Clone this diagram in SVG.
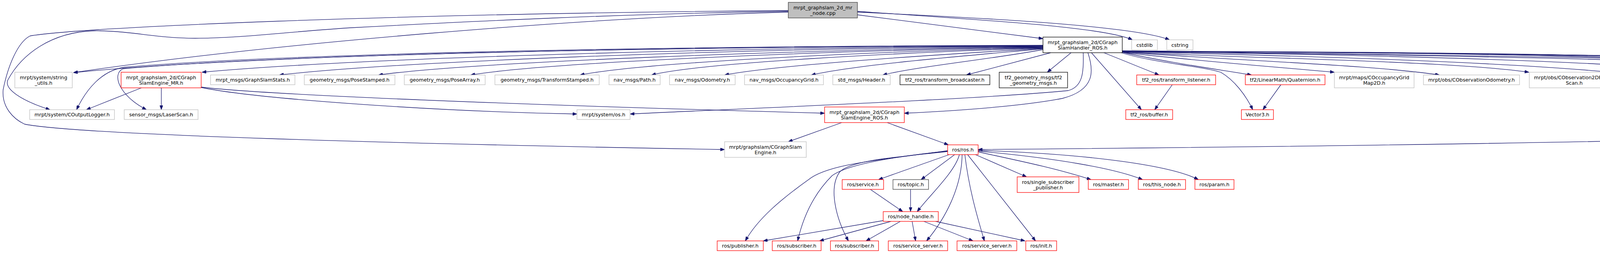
<svg xmlns="http://www.w3.org/2000/svg" width="5449" height="648" viewBox="0 0 5449 648">
<style>
.n rect{fill:#ffffff;stroke-width:1.3}
.g rect{stroke:#bfbfbf}
.r rect{stroke:#ff0000}
.b rect{stroke:#000000}
.d rect{stroke:#404040}
.root rect{fill:#bfbfbf;stroke:#404040}
.n text{font-family:"DejaVu Sans","Liberation Sans",sans-serif;font-size:12.7px;fill:#000000;text-anchor:middle}
#edges path{fill:none;stroke:#191970;stroke-width:1.3;marker-end:url(#a)}
</style>
<defs>
<marker id="a" markerWidth="11" markerHeight="8" refX="11" refY="4" orient="auto" markerUnits="userSpaceOnUse"><path d="M0,0 L11,4 L0,8 z" fill="#191970" stroke="#191970" stroke-width="1"/></marker>
</defs>
<rect width="5449" height="648" fill="#ffffff"/>
<g id="edges">
<path d="M2195,38 L2670,99"/>
<path d="M2195,29 C2450,48 2820,66 2899,102"/>
<path d="M2195,31 C2500,45 2900,65 2994,102"/>
<path d="M2018,27 C1000,35 200,70 77,92 C45,108 20,170 8,230 C4,275 35,305 63,318 C200,345 1000,368 1855,383"/>
<path d="M2018,29 C1600,35 1200,55 900,71 C750,80 620,98 500,98 C400,98 330,78 241,79 C130,82 55,140 20,205 C10,228 55,258 128,281"/>
<path d="M2018,31 C1500,45 700,110 188,186"/>
<path d="M2670,117 C1800,120 700,135 188,186"/>
<path d="M2670,116 C1600,118 700,140 320,172 C260,180 220,230 196,281"/>
<path d="M2670,117 C1600,120 700,142 315,176 C285,190 305,245 375,281"/>
<path d="M2670,118 C1800,122 900,150 517,185"/>
<path d="M2670,119 C1800,125 1000,160 715,192"/>
<path d="M2670,120 C2000,128 1200,160 969,192"/>
<path d="M2670,121 C2100,130 1400,160 1205,192"/>
<path d="M2670,122 C2200,133 1650,160 1485,192"/>
<path d="M2670,123 C2300,135 1800,160 1668,192"/>
<path d="M2670,124 C2400,140 2000,165 1855,192"/>
<path d="M2670,125 C2450,145 2200,165 2077,192"/>
<path d="M2670,127 C2550,150 2350,170 2260,192"/>
<path d="M2690,135 L2474,192"/>
<path d="M2742,135 L2681,185"/>
<path d="M2773,135 C2775,190 2770,222 2735,232 C2500,255 1900,278 1613,292"/>
<path d="M2785,135 C2800,180 2805,230 2720,252 C2600,275 2420,285 2315,290"/>
<path d="M2794,135 L2922,281"/>
<path d="M2826,135 L2967,192"/>
<path d="M2870,135 C2950,160 3080,170 3125,185 C3160,205 3190,245 3207,281"/>
<path d="M2873,134 C2980,158 3100,175 3204,192"/>
<path d="M2873,134 C3050,155 3250,170 3416,185"/>
<path d="M2873,133 C3200,158 3500,165 3685,192"/>
<path d="M2873,133 C3200,150 3700,155 3914,185"/>
<path d="M2873,132 C3400,145 3900,160 4196,192"/>
<path d="M2873,132 C3500,140 4100,155 4384,185"/>
<path d="M2873,131 C3600,135 4500,140 4636,192"/>
<path d="M2873,131 C3700,135 4600,140 4718,192"/>
<path d="M2873,131 C3700,133 4700,140 4814,192"/>
<path d="M2873,132 C3700,140 4600,160 4899,186"/>
<path d="M2873,132 C3800,140 4900,160 5179,186"/>
<path d="M2873,131 C3800,135 4900,150 5100,172 C5150,185 5185,240 5206,281"/>
<path d="M2873,130 C3800,138 5250,150 5420,172 C5445,180 5440,230 5420,270 C5400,300 5380,312 5342,318 C5000,350 3800,372 2504,383"/>
<path d="M362,225 L221,281"/>
<path d="M413,225 L413,281"/>
<path d="M515,224 C650,252 1100,285 1477,292"/>
<path d="M515,223 C650,240 1200,265 2111,290"/>
<path d="M2155,314 L2018,363"/>
<path d="M2271,314 L2428,371"/>
<path d="M3001,217 L2956,281"/>
<path d="M3279,217 L3233,281"/>
<path d="M5282,225 L5237,281"/>
<path d="M2430,396 L2249,460"/>
<path d="M2444,396 L2358,460"/>
<path d="M2456,396 C2445,440 2380,500 2348,542"/>
<path d="M2463,396 C2462,480 2420,560 2372,617"/>
<path d="M2470,396 C2480,480 2500,550 2520,617"/>
<path d="M2477,396 L2651,617"/>
<path d="M2497,396 L2628,453"/>
<path d="M2504,389 C2600,410 2700,430 2793,460"/>
<path d="M2504,387 C2700,405 2850,430 2925,460"/>
<path d="M2504,385 C2800,395 3000,425 3068,460"/>
<path d="M2426,386 C2250,410 2120,420 2070,460 C2000,510 1940,560 1908,617"/>
<path d="M2426,387 C2300,400 2170,420 2130,450 C2080,500 2055,560 2042,617"/>
<path d="M2426,388 C2300,402 2180,410 2150,440 C2120,480 2140,560 2172,617"/>
<path d="M2261,565 L1954,617"/>
<path d="M2281,567 L2098,617"/>
<path d="M2305,567 L2217,617"/>
<path d="M2335,567 L2344,617"/>
<path d="M2365,567 L2491,617"/>
<path d="M2395,567 L2624,617"/>
<path d="M2228,485 L2311,542"/>
<path d="M2331,485 L2331,542"/>
</g>
<g id="node-root" class="n root"><rect x="2018" y="6" width="177" height="40"/><text x="2106.5" y="24">mrpt_graphslam_2d_mr</text><text x="2106.5" y="38">_node.cpp</text></g>
<g id="node-handler" class="n b"><rect x="2670" y="95" width="203" height="40"/><text x="2771.5" y="113">mrpt_graphslam_2d/CGraph</text><text x="2771.5" y="127">SlamHandler_ROS.h</text></g>
<g id="node-cstdlib" class="n g"><rect x="2897" y="102" width="66" height="26"/><text x="2930" y="119.5">cstdlib</text></g>
<g id="node-cstring" class="n g"><rect x="2987" y="102" width="67" height="26"/><text x="3020.5" y="119.5">cstring</text></g>
<g id="node-string-utils" class="n g"><rect x="38" y="185" width="147" height="40"/><text x="111.5" y="203">mrpt/system/string</text><text x="111.5" y="217">_utils.h</text></g>
<g id="node-engine-mr" class="n r"><rect x="310" y="185" width="205" height="40"/><text x="412.5" y="203">mrpt_graphslam_2d/CGraph</text><text x="412.5" y="217">SlamEngine_MR.h</text></g>
<g id="node-graphslamstats" class="n g"><rect x="539" y="192" width="216" height="25"/><text x="647" y="209">mrpt_msgs/GraphSlamStats.h</text></g>
<g id="node-posestamped" class="n g"><rect x="779" y="192" width="232" height="25"/><text x="895" y="209">geometry_msgs/PoseStamped.h</text></g>
<g id="node-posearray" class="n g"><rect x="1035" y="192" width="207" height="25"/><text x="1138.5" y="209">geometry_msgs/PoseArray.h</text></g>
<g id="node-transformstamped" class="n g"><rect x="1267" y="192" width="267" height="25"/><text x="1400.5" y="209">geometry_msgs/TransformStamped.h</text></g>
<g id="node-path" class="n g"><rect x="1559" y="192" width="131" height="25"/><text x="1624.5" y="209">nav_msgs/Path.h</text></g>
<g id="node-odometry" class="n g"><rect x="1714" y="192" width="168" height="25"/><text x="1798" y="209">nav_msgs/Odometry.h</text></g>
<g id="node-occupancygrid" class="n g"><rect x="1906" y="192" width="202" height="25"/><text x="2007" y="209">nav_msgs/OccupancyGrid.h</text></g>
<g id="node-header" class="n g"><rect x="2132" y="192" width="147" height="25"/><text x="2205.5" y="209">std_msgs/Header.h</text></g>
<g id="node-broadcaster" class="n b"><rect x="2304" y="192" width="230" height="25"/><text x="2419" y="209">tf2_ros/transform_broadcaster.h</text></g>
<g id="node-tf2-geometry" class="n b"><rect x="2558" y="185" width="175" height="40"/><text x="2645.5" y="203">tf2_geometry_msgs/tf2</text><text x="2645.5" y="217">_geometry_msgs.h</text></g>
<g id="node-listener" class="n r"><rect x="2910" y="192" width="202" height="25"/><text x="3011" y="209">tf2_ros/transform_listener.h</text></g>
<g id="node-quaternion" class="n r"><rect x="3188" y="192" width="204" height="25"/><text x="3290" y="209">tf2/LinearMath/Quaternion.h</text></g>
<g id="node-occgridmap" class="n g"><rect x="3416" y="185" width="204" height="40"/><text x="3518" y="203">mrpt/maps/COccupancyGrid</text><text x="3518" y="217">Map2D.h</text></g>
<g id="node-obsodometry" class="n g"><rect x="3644" y="192" width="246" height="25"/><text x="3767" y="209">mrpt/obs/CObservationOdometry.h</text></g>
<g id="node-rangescan" class="n g"><rect x="3915" y="185" width="230" height="40"/><text x="4030" y="203">mrpt/obs/CObservation2DRange</text><text x="4030" y="217">Scan.h</text></g>
<g id="node-filesystem" class="n g"><rect x="4170" y="192" width="189" height="25"/><text x="4264.5" y="209">mrpt/system/filesystem.h</text></g>
<g id="node-slamhandler" class="n g"><rect x="4384" y="185" width="222" height="40"/><text x="4495" y="203">mrpt/graphslam/apps</text><text x="4495" y="217">_related/CGraphSlamHandler.h</text></g>
<g id="node-string" class="n g"><rect x="4630" y="192" width="59" height="25"/><text x="4659.5" y="209">string</text></g>
<g id="node-sstream" class="n g"><rect x="4712" y="192" width="75" height="25"/><text x="4749.5" y="209">sstream</text></g>
<g id="node-vector" class="n g"><rect x="4811" y="192" width="64" height="25"/><text x="4843" y="209">vector</text></g>
<g id="node-handler-impl" class="n r"><rect x="4899" y="185" width="203" height="40"/><text x="5000.5" y="203">mrpt_graphslam_2d/CGraph</text><text x="5000.5" y="217">SlamHandler_ROS_impl.h</text></g>
<g id="node-useroptions" class="n r"><rect x="5179" y="185" width="243" height="40"/><text x="5300.5" y="203">mrpt_graphslam_2d/TUserOptions</text><text x="5300.5" y="217">Checker_ROS.h</text></g>
<g id="node-coutputlogger" class="n g"><rect x="76" y="281" width="217" height="25"/><text x="184.5" y="298">mrpt/system/COutputLogger.h</text></g>
<g id="node-laserscan" class="n g"><rect x="318" y="281" width="189" height="25"/><text x="412.5" y="298">sensor_msgs/LaserScan.h</text></g>
<g id="node-os" class="n g"><rect x="1477" y="281" width="136" height="25"/><text x="1545" y="298">mrpt/system/os.h</text></g>
<g id="node-engine-ros" class="n r"><rect x="2111" y="274" width="204" height="40"/><text x="2213" y="292">mrpt_graphslam_2d/CGraph</text><text x="2213" y="306">SlamEngine_ROS.h</text></g>
<g id="node-buffer" class="n r"><rect x="2882" y="281" width="120" height="25"/><text x="2942" y="298">tf2_ros/buffer.h</text></g>
<g id="node-vector3" class="n r"><rect x="3178" y="281" width="82" height="25"/><text x="3219" y="298">Vector3.h</text></g>
<g id="node-networkofposes" class="n g"><rect x="5104" y="281" width="233" height="25"/><text x="5220.5" y="298">mrpt/graphs/CNetworkOfPoses.h</text></g>
<g id="node-graphslamengine" class="n g"><rect x="1855" y="363" width="209" height="40"/><text x="1959.5" y="381">mrpt/graphslam/CGraphSlam</text><text x="1959.5" y="395">Engine.h</text></g>
<g id="node-ros" class="n r"><rect x="2426" y="371" width="78" height="25"/><text x="2465" y="388">ros/ros.h</text></g>
<g id="node-service" class="n r"><rect x="2156" y="460" width="106" height="25"/><text x="2209" y="477">ros/service.h</text></g>
<g id="node-topic" class="n d"><rect x="2286" y="460" width="91" height="25"/><text x="2331.5" y="477">ros/topic.h</text></g>
<g id="node-single-sub" class="n r"><rect x="2604" y="453" width="158" height="40"/><text x="2683" y="471">ros/single_subscriber</text><text x="2683" y="485">_publisher.h</text></g>
<g id="node-master" class="n r"><rect x="2786" y="460" width="103" height="25"/><text x="2837.5" y="477">ros/master.h</text></g>
<g id="node-this-node" class="n r"><rect x="2914" y="460" width="121" height="25"/><text x="2974.5" y="477">ros/this_node.h</text></g>
<g id="node-param" class="n r"><rect x="3059" y="460" width="100" height="25"/><text x="3109" y="477">ros/param.h</text></g>
<g id="node-node-handle" class="n r"><rect x="2261" y="542" width="141" height="25"/><text x="2331.5" y="559">ros/node_handle.h</text></g>
<g id="node-publisher" class="n r"><rect x="1836" y="617" width="118" height="25"/><text x="1895" y="634">ros/publisher.h</text></g>
<g id="node-subscriber1" class="n r"><rect x="1977" y="617" width="125" height="25"/><text x="2039.5" y="634">ros/subscriber.h</text></g>
<g id="node-subscriber2" class="n r"><rect x="2126" y="617" width="123" height="25"/><text x="2187.5" y="634">ros/subscriber.h</text></g>
<g id="node-service-server1" class="n r"><rect x="2274" y="617" width="152" height="25"/><text x="2350" y="634">ros/service_server.h</text></g>
<g id="node-service-server2" class="n r"><rect x="2450" y="617" width="153" height="25"/><text x="2526.5" y="634">ros/service_server.h</text></g>
<g id="node-init" class="n r"><rect x="2626" y="617" width="79" height="25"/><text x="2665.5" y="634">ros/init.h</text></g>
</svg>
